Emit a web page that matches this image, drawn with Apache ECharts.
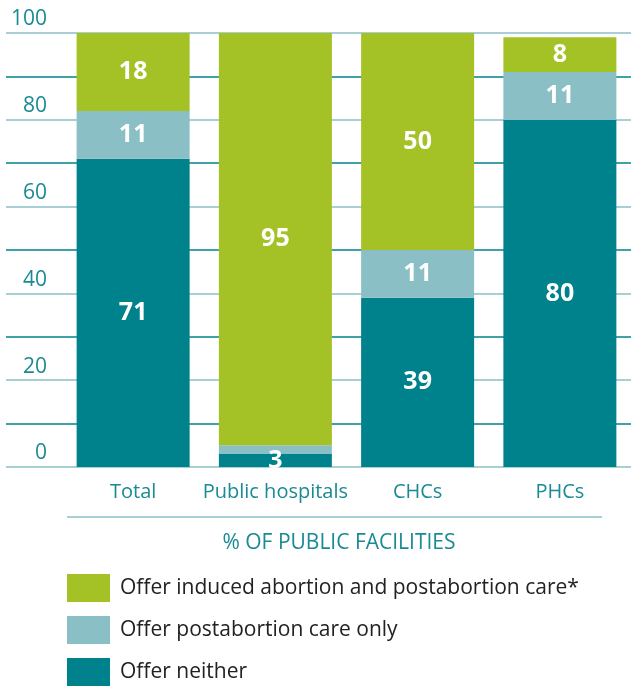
<!DOCTYPE html>
<html>
<head>
<meta charset="utf-8">
<script src="https://cdn.jsdelivr.net/npm/echarts@6/dist/echarts.min.js"></script>
<style>
  html, body { margin: 0; padding: 0; background: #fff; }
  #main { width: 631px; height: 686px; }
</style>
</head>
<body>
<div id="main"></div>
<script>
var categories = ['Total', 'Public hospitals', 'CHCs', 'PHCs'];
var neither = [71, 3, 39, 80];
var postOnly = [11, 2, 11, 11];
var induced = [18, 95, 50, 8];
var yTicks = [0, 20, 40, 60, 80, 100];

var GREEN = '#a4c126', LIGHT = '#8abfc6', DARK = '#00828c', TEAL = '#1a8a94';
var FONT = 'Open Sans';

var myChart = echarts.init(document.getElementById('main'));

function seg(name, data, color, minLabel) {
  return {
    name: name,
    type: 'bar',
    stack: 'all',
    xAxisIndex: 1,
    yAxisIndex: 1,
    barWidth: 113,
    data: data,
    itemStyle: { color: color },
    label: {
      show: true,
      position: 'inside',
      color: '#fff',
      fontFamily: FONT,
      fontWeight: 'bold',
      fontSize: 25,
      formatter: function (p) { return p.value >= minLabel ? p.value : ''; }
    }
  };
}

var option = {
  animation: false,
  textStyle: { fontFamily: FONT },
  grid: [
    // gridlines + y labels span the full width
    { left: 6, right: 0, top: 33, bottom: 219 },
    // bars
    { left: 62, right: -2, top: 33, bottom: 219 }
  ],
  xAxis: [
    { gridIndex: 0, type: 'value', show: false, min: 0, max: 1 },
    {
      gridIndex: 1,
      type: 'category',
      data: categories,
      axisLine: { show: false },
      axisTick: { show: false },
      axisLabel: { interval: 0, color: TEAL, fontSize: 20, margin: 15, fontFamily: FONT }
    }
  ],
  yAxis: [
    {
      gridIndex: 0,
      type: 'value',
      min: 0,
      max: 100,
      interval: 10,
      axisLine: { show: false },
      axisTick: { show: false },
      splitLine: { lineStyle: { color: [LIGHT, DARK], width: 1.5 } },
      axisLabel: {
        inside: true,
        align: 'right',
        verticalAlign: 'bottom',
        margin: 41,
        padding: [0, 0, 3, 0],
        color: TEAL,
        fontSize: 21,
        fontFamily: FONT,
        formatter: function (v) { return yTicks.indexOf(v) >= 0 ? v : ''; }
      }
    },
    { gridIndex: 1, type: 'value', min: 0, max: 100, show: false }
  ],
  legend: {
    orient: 'vertical',
    left: 67,
    top: 574,
    padding: 0,
    itemWidth: 43,
    itemHeight: 28,
    itemGap: 14,
    icon: 'rect',
    data: ['Offer induced abortion and postabortion care*', 'Offer postabortion care only', 'Offer neither'],
    textStyle: { color: '#222', fontSize: 21, fontFamily: FONT, padding: [0, 0, 0, 5] }
  },
  title: {
    text: '% OF PUBLIC FACILITIES',
    left: 339,
    textAlign: 'center',
    top: 533,
    padding: 0,
    textStyle: { color: TEAL, fontSize: 21, fontWeight: 'normal', fontFamily: FONT }
  },
  graphic: [
    { type: 'line', shape: { x1: 67, y1: 517, x2: 602, y2: 517 }, style: { stroke: LIGHT, lineWidth: 1.5 } }
  ],
  series: [
    seg('Offer neither', neither, DARK, 3),
    seg('Offer postabortion care only', postOnly, LIGHT, 5),
    seg('Offer induced abortion and postabortion care*', induced, GREEN, 3)
  ]
};
myChart.setOption(option);
</script>
</body>
</html>
